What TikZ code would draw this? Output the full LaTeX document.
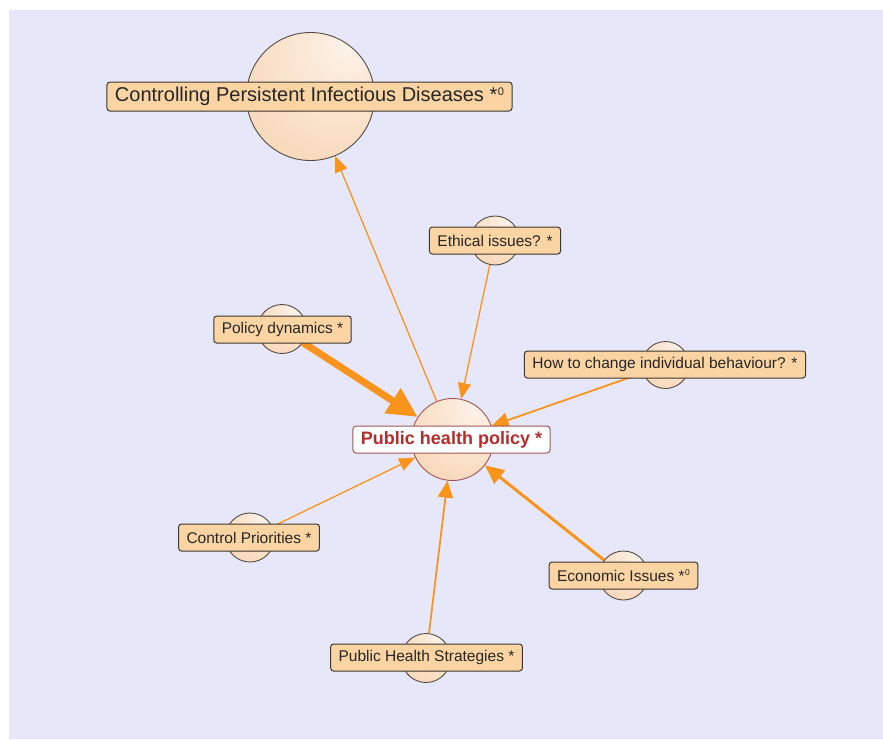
\documentclass[tikz,border=0pt]{standalone}
\usepackage{fontspec}
\setmainfont{Liberation Sans}
\usetikzlibrary{arrows.meta}

\definecolor{bgpanel}{RGB}{230,232,250}
\definecolor{tagfill}{RGB}{251,212,164}
\definecolor{tagline}{RGB}{60,55,50}
\definecolor{linkorange}{RGB}{248,148,28}
\definecolor{bubblelight}{RGB}{253,244,236}
\definecolor{bubbledark}{RGB}{246,206,166}
\definecolor{bubbleline}{RGB}{85,75,70}
\definecolor{hubline}{RGB}{160,85,85}
\definecolor{hubtext}{RGB}{180,45,45}

\pgfdeclareradialshading{bubbleshade}{\pgfpoint{16bp}{22bp}}{%
  color(0bp)=(bubblelight); color(18bp)=(bubblelight!65!bubbledark);
  color(60bp)=(bubbledark); color(100bp)=(bubbledark)}

% small raised zero after the asterisk
\newcommand\starzero{*\kern0.5pt\raisebox{0.33em}{\scalebox{0.55}{0}}}

\tikzset{
  bubble/.style={circle, draw=bubbleline, line width=0.9pt, shading=bubbleshade, inner sep=0pt},
  hubbubble/.style={bubble, draw=hubline},
  tag/.style={draw=tagline, fill=tagfill, rounded corners=3pt, line width=1pt,
    inner xsep=8pt, inner ysep=0pt, minimum height=27pt, text=black!85,
    font=\fontsize{15.5}{18}\selectfont},
  bigtag/.style={tag, minimum height=29pt, font=\fontsize{20}{24}\selectfont},
  hubtag/.style={tag, draw=hubline, fill=white, text=hubtext,
    font=\bfseries\fontsize{18}{21}\selectfont},
  link/.style={draw=linkorange, line width=#1},
  thinlink/.style={link=1.3pt, -{Triangle[length=16pt,width=13pt]}},
  midlink/.style={link=1.8pt, -{Triangle[length=17pt,width=15pt]}},
  widelink/.style={link=3pt, -{Triangle[length=19pt,width=17pt]}},
  boldlink/.style={link=7pt, -{Triangle[length=30pt,width=28pt]}},
}

\begin{document}
\begin{tikzpicture}[x=1pt,y=-1pt]
  \useasboundingbox (0,0) rectangle (883,739);
  \fill[white] (0,0) rectangle (883,739);
  \fill[bgpanel] (9,10) rectangle (883,739);

  % topic bubbles
  \node[bubble, minimum size=128pt] (goal) at (310.5,96.5) {};
  \node[hubbubble, minimum size=82pt] (hub) at (452.5,439.5) {};
  \node[bubble, minimum size=49pt] (ethic) at (495,240.5) {};
  \node[bubble, minimum size=49pt] (dyn) at (282,329) {};
  \node[bubble, minimum size=47pt] (behav) at (665.5,365) {};
  \node[bubble, minimum size=49pt] (prio) at (250,537.5) {};
  \node[bubble, minimum size=49pt] (econ) at (623.5,575.5) {};
  \node[bubble, minimum size=49pt] (strat) at (426,658) {};

  % links between topics
  \draw[thinlink] (hub) -- (goal);
  \draw[thinlink] (ethic) -- (hub);
  \draw[boldlink] (dyn) -- (hub);
  \draw[midlink] (behav) -- (hub);
  \draw[thinlink] (prio) -- (hub);
  \draw[widelink] (econ) -- (hub);
  \draw[midlink] (strat) -- (hub);

  % topic labels
  \node[bigtag] (goalL) at (309.5,96.5) {Controlling Persistent Infectious Diseases \starzero};
  \node[hubtag] (hubL) at (451.5,439.5) {Public health policy *};
  \node[tag] (ethicL) at (495,240.5) {Ethical issues? *};
  \node[tag] (dynL) at (282.5,329.5) {Policy dynamics *};
  \node[tag] (behavL) at (665,364.5) {How to change individual behaviour? *};
  \node[tag] (prioL) at (249,537.5) {Control Priorities *};
  \node[tag] (econL) at (623.5,575.5) {Economic Issues \starzero};
  \node[tag] (stratL) at (426.5,657.5) {Public Health Strategies *};
\end{tikzpicture}
\end{document}
